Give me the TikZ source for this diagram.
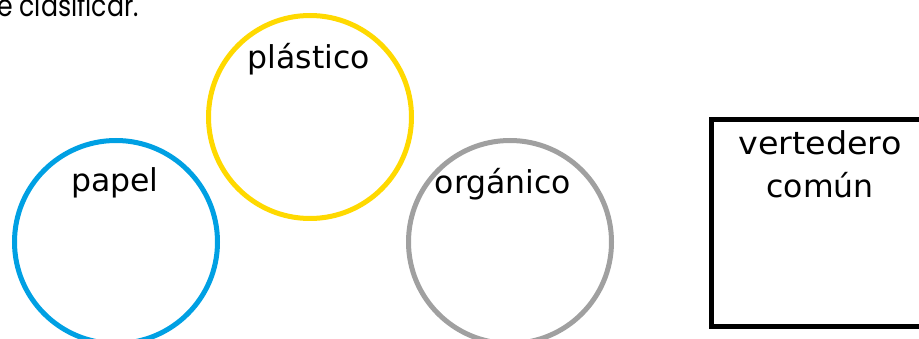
\documentclass[tikz,border=0pt]{standalone}
\usepackage{fontspec}
\setmainfont{DejaVu Sans}
\newfontfamily\topfont{Poppins}
\definecolor{cblue}{RGB}{0,160,227}
\definecolor{cyellow}{RGB}{255,217,0}
\definecolor{cgray}{RGB}{160,160,160}
\begin{document}
\begin{tikzpicture}[x=1pt,y=-1pt,
  bin/.style={circle,draw,line width=5pt,minimum size=203pt,inner sep=0pt},
  lbl/.style={anchor=base,inner sep=0pt,font=\fontsize{31.5}{38}\selectfont},
]
\useasboundingbox (0,0) rectangle (919,339);
\clip (0,0) rectangle (919,339);
\node[anchor=base west,inner sep=0pt,font=\topfont\fontsize{30}{36}\selectfont] (title) at (-3,17) {\scalebox{0.84}[1]{e clasificar.}};
\node[bin,draw=cblue] (papel) at (116,242) {};
\node[bin,draw=cyellow] (plastico) at (310,117) {};
\node[bin,draw=cgray] (organico) at (510,242) {};
\draw[line width=5pt] (930,119.5) -| (711.5,326.5) -- (930,326.5);
\node[lbl] (tpapel) at (115,192) {papel};
\node[lbl] (tplastico) at (309,69) {plástico};
\node[lbl] (torganico) at (503,194) {orgánico};
\node[lbl] (tvert) at (820,155) {\scalebox{1.06}[1]{vertedero}};
\node[lbl] (tcomun) at (820,198) {común};
\end{tikzpicture}
\end{document}
